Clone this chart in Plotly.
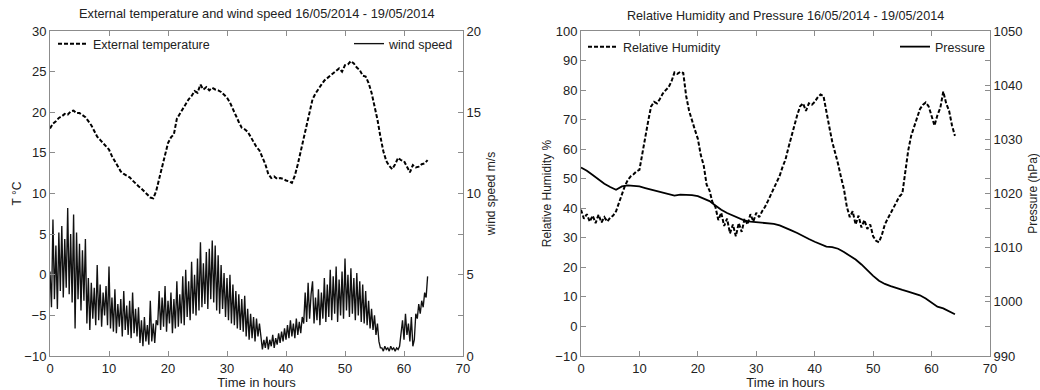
import plotly.graph_objects as go

# ---------------- data ----------------
# External temperature (deg C), sampled every 0.5 h from 0 h to 64 h
temperature = [
    18.0, 18.6, 18.9, 19.3, 19.5, 19.8, 19.7, 20.1, 20.2, 19.9,
    19.9, 19.7, 19.4, 18.9, 18.4, 17.7, 17.0, 16.6, 16.2, 15.9,
    15.4, 14.6, 13.9, 13.3, 12.7, 12.4, 12.2, 12.0, 11.6, 11.2,
    10.9, 10.6, 10.2, 9.8, 9.5, 9.4, 10.3, 11.8, 13.4, 14.8,
    16.2, 16.9, 17.3, 19.2, 19.8, 20.4, 21.0, 21.6, 22.0, 22.6,
    22.4, 23.4, 22.8, 23.1, 22.7, 23.0, 22.8, 22.7, 22.5, 22.2,
    21.8, 21.2, 20.5, 19.6, 18.8, 18.1, 17.9, 17.6, 17.0, 16.3,
    15.7, 15.3, 14.5, 13.6, 12.4, 11.9, 12.1, 11.8, 11.9, 11.8,
    11.6, 11.5, 11.3, 12.2, 13.6, 15.2, 17.0, 18.7, 20.3, 21.6,
    22.3, 22.9, 23.4, 23.9, 24.2, 24.6, 24.9, 25.1, 25.4, 25.0,
    25.8, 25.9, 26.3, 26.0, 25.5, 25.2, 24.5, 24.4, 23.6, 22.4,
    20.8, 19.1, 17.0, 15.2, 14.0, 13.4, 13.0, 13.6, 14.4, 14.1,
    14.0, 13.2, 12.6, 13.5, 13.2, 13.3, 13.6, 13.7, 14.1,
]

# Wind speed (m/s), sampled every 0.25 h from 0 h to 64 h
wind_speed = [
    5.2, 3.0, 8.4, 3.5, 6.8, 2.9, 7.6, 4.0, 8.0, 3.6, 7.2, 4.2,
    9.1, 3.8, 7.5, 3.3, 8.7, 1.7, 7.6, 3.5, 6.9, 2.8, 6.5, 3.4,
    7.2, 2.0, 4.8, 1.6, 4.5, 2.3, 4.2, 1.9, 5.6, 2.2, 4.4, 1.8,
    3.9, 2.5, 4.3, 1.9, 5.5, 1.7, 3.6, 1.5, 4.1, 1.4, 3.2, 1.8,
    3.5, 1.2, 4.0, 1.6, 3.1, 1.3, 3.4, 1.1, 3.9, 1.4, 2.9, 1.2,
    3.0, 0.8, 2.2, 0.6, 2.4, 0.9, 1.9, 0.7, 3.4, 0.9, 2.0, 0.8,
    2.2, 1.9, 4.0, 1.6, 3.6, 1.8, 4.3, 1.5, 3.4, 2.0, 3.9, 1.4,
    3.5, 1.7, 4.6, 1.8, 3.8, 2.0, 4.9, 1.9, 5.3, 2.4, 4.6, 2.2,
    5.8, 2.6, 5.0, 2.5, 6.0, 2.8, 7.0, 3.0, 5.7, 3.2, 6.4, 2.9,
    6.6, 3.5, 7.1, 3.3, 6.8, 2.8, 6.2, 2.6, 5.6, 2.9, 5.1, 2.4,
    4.8, 2.2, 5.0, 2.0, 4.4, 1.9, 4.0, 1.7, 3.8, 1.6, 3.5, 1.5,
    3.7, 1.2, 2.9, 1.0, 2.6, 1.1, 2.4, 0.9, 2.3, 1.2, 2.0, 1.0,
    0.4, 1.0, 0.5, 1.2, 0.4, 1.0, 0.6, 1.3, 0.5, 1.1, 0.7, 1.4,
    0.8, 1.5, 0.9, 1.7, 1.0, 1.9, 1.1, 2.2, 1.2, 2.0, 1.1, 2.3,
    1.3, 2.1, 1.4, 2.4, 2.0, 3.9, 2.1, 4.5, 2.3, 3.8, 4.6, 2.0,
    3.6, 2.2, 4.1, 1.9, 3.9, 2.3, 4.8, 2.1, 4.4, 2.4, 5.3, 2.2,
    4.9, 2.6, 5.5, 2.1, 4.7, 2.5, 5.2, 2.3, 6.0, 2.8, 5.0, 2.4,
    5.4, 2.6, 4.8, 2.2, 5.1, 2.5, 4.6, 2.1, 4.4, 2.0, 4.0, 1.9,
    3.4, 1.7, 2.9, 1.6, 2.5, 1.3, 2.0, 0.9, 0.5, 0.5, 0.3, 0.6,
    0.4, 0.5, 0.3, 0.6, 0.4, 0.5, 0.3, 0.5, 0.4, 0.6, 1.4, 2.2,
    1.0, 2.6, 1.3, 2.0, 0.9, 2.4, 0.6, 1.0, 2.6, 2.3, 3.2, 2.6,
    3.4, 3.0, 3.9, 3.6, 4.9,
]

# Relative humidity (%), sampled every 0.5 h from 0 h to 64 h
humidity = [
    39.5, 36.5, 38.0, 35.5, 37.5, 35.0, 37.8, 35.2, 37.0, 35.5,
    36.8, 37.5, 39.0, 42.0, 45.0, 47.5, 49.5, 50.8, 51.5, 52.5,
    53.0, 58.0, 64.0, 69.5, 74.5, 76.0, 75.5, 77.0, 78.8, 80.0,
    81.0, 83.0, 86.0, 85.5, 86.2, 85.8, 78.0, 73.0, 69.5, 66.5,
    63.5, 58.0, 54.5, 48.0, 46.0, 42.0, 40.5, 36.0, 38.5, 34.0,
    36.5, 31.5, 34.5, 30.5, 35.0, 32.0, 36.5, 34.5, 38.0, 35.5,
    38.5, 37.0, 39.0, 40.5, 42.5, 44.5, 46.5, 48.5, 51.0, 54.0,
    56.5, 60.5, 64.5, 68.0, 71.5, 74.5, 75.5, 73.0, 75.5, 75.0,
    76.0, 77.5, 78.5, 78.0, 72.0, 67.5, 62.5, 59.0, 55.0, 50.5,
    46.5, 40.5, 37.0, 39.0, 34.5, 37.5, 33.5, 36.0, 33.0, 34.5,
    30.5, 29.0, 28.5, 31.0, 34.5, 36.5, 38.5, 40.5, 42.5, 44.0,
    45.0, 52.0, 59.5, 64.5, 67.5, 71.0, 73.5, 75.0, 75.8, 74.5,
    71.5, 68.0, 71.5, 74.0, 79.5, 75.5, 73.0, 68.0, 64.5,
]

# Pressure (hPa), sampled every 1 h from 0 h to 64 h
pressure = [
    1024.8, 1024.2, 1023.4, 1022.6, 1021.8, 1021.2, 1020.7, 1021.3,
    1021.5, 1021.4, 1021.3, 1021.0, 1020.7, 1020.4, 1020.1, 1019.8,
    1019.6, 1019.8, 1019.8, 1019.7, 1019.5, 1019.1, 1018.6, 1017.8,
    1017.0, 1016.4, 1015.9, 1015.4, 1015.0, 1014.8, 1014.7, 1014.7,
    1014.6, 1014.4, 1014.1, 1013.7, 1013.2, 1012.7, 1012.1, 1011.6,
    1011.1, 1010.6, 1010.2, 1010.1, 1009.8, 1009.2, 1008.5, 1007.8,
    1006.9, 1005.8, 1004.8, 1003.9, 1003.3, 1002.9, 1002.5, 1002.2,
    1001.9, 1001.6, 1001.2, 1000.6, 999.9, 999.1, 998.8, 998.2,
    997.7,
]

t_temperature = [i * 0.5 for i in range(len(temperature))]
t_wind = [i * 0.25 for i in range(len(wind_speed))]
t_humidity = [i * 0.5 for i in range(len(humidity))]
t_pressure = [i * 1.0 for i in range(len(pressure))]

title_left = "External temperature and wind speed 16/05/2014 - 19/05/2014"
title_right = "Relative Humidity and Pressure 16/05/2014 - 19/05/2014"

# ---------------- figure ----------------
FONT = "Liberation Sans, Arial, Helvetica, sans-serif"
AX = "#8c8c8c"
TXT = "#222222"

fig = go.Figure()

fig.add_trace(go.Scatter(
    x=t_temperature, y=temperature, name="External temperature",
    mode="lines", line=dict(color="black", width=2, dash="4px,2px"),
    xaxis="x", yaxis="y", legend="legend", showlegend=True))
fig.add_trace(go.Scatter(
    x=t_wind, y=wind_speed, name="wind speed",
    mode="lines", line=dict(color="#111111", width=1.35),
    xaxis="x", yaxis="y2", legend="legend2", showlegend=True))
fig.add_trace(go.Scatter(
    x=t_humidity, y=humidity, name="Relative Humidity",
    mode="lines", line=dict(color="black", width=2, dash="4px,2px"),
    xaxis="x2", yaxis="y3", legend="legend3", showlegend=True))
fig.add_trace(go.Scatter(
    x=t_pressure, y=pressure, name="Pressure",
    mode="lines", line=dict(color="black", width=1.8),
    xaxis="x2", yaxis="y4", legend="legend4", showlegend=True))

L, R, T, B = 50, 50, 31, 34
W, H = 1040, 390
PW = W - L - R
PH = H - T - B


def px_x(p):
    return (p - L) / PW


def px_y(p):
    return (H - B - p) / PH


common_axis = dict(
    showline=True, linecolor=AX, linewidth=1,
    ticks="inside", ticklen=5, tickcolor=AX, tickwidth=1,
    showgrid=False, zeroline=False,
    tickfont=dict(family=FONT, size=13, color=TXT),
    automargin=False,
)

xdom_left = [0, px_x(463)]
xdom_right = [px_x(581), 1]

LEG_FONT = dict(family=FONT, size=12.5, color=TXT)

fig.update_layout(
    width=W, height=H,
    margin=dict(l=L, r=R, t=T, b=B),
    paper_bgcolor="white", plot_bgcolor="white",
    template="none",
    showlegend=True,
    font=dict(family=FONT, size=12, color=TXT),
    xaxis=dict(**common_axis, domain=xdom_left, range=[0, 70], dtick=10,
               mirror="ticks", anchor="y",
               title=dict(text="Time in hours", standoff=4,
                          font=dict(family=FONT, size=13, color=TXT))),
    yaxis=dict(**common_axis, range=[-10, 30], dtick=5, mirror="ticks",
               anchor="x",
               title=dict(text="T °C", standoff=0,
                          font=dict(family=FONT, size=12, color=TXT))),
    yaxis2=dict(**common_axis, range=[0, 20], dtick=5, overlaying="y",
                side="right", anchor="x",
                title=dict(text="wind speed m/s", standoff=6,
                           font=dict(family=FONT, size=12, color=TXT))),
    xaxis2=dict(**common_axis, domain=xdom_right, range=[0, 70], dtick=10,
                mirror="ticks", anchor="y3",
                title=dict(text="Time in hours", standoff=4,
                           font=dict(family=FONT, size=13, color=TXT))),
    yaxis3=dict(**common_axis, range=[-10, 100], dtick=10, mirror="ticks",
                anchor="x2",
                title=dict(text="Relative Humidity %", standoff=1,
                           font=dict(family=FONT, size=12, color=TXT))),
    yaxis4=dict(**common_axis, range=[990, 1050], dtick=10, overlaying="y3",
                side="right", anchor="x2",
                title=dict(text="Pressure (hPa)", standoff=11,
                           font=dict(family=FONT, size=12, color=TXT))),
    legend=dict(x=px_x(53), y=px_y(44), xanchor="left", yanchor="middle",
                bgcolor="rgba(0,0,0,0)", font=LEG_FONT),
    legend2=dict(x=px_x(459), y=px_y(44), xanchor="right", yanchor="middle",
                 bgcolor="rgba(0,0,0,0)", font=LEG_FONT),
    legend3=dict(x=px_x(583), y=px_y(47), xanchor="left", yanchor="middle",
                 bgcolor="rgba(0,0,0,0)", font=LEG_FONT),
    legend4=dict(x=px_x(991), y=px_y(47), xanchor="right", yanchor="middle",
                 bgcolor="rgba(0,0,0,0)", font=LEG_FONT),
    annotations=[
        dict(text=title_left, xref="paper", yref="paper",
             x=(xdom_left[0] + xdom_left[1]) / 2, y=px_y(14),
             xanchor="center", yanchor="middle", showarrow=False,
             font=dict(family=FONT, size=12.8, color=TXT)),
        dict(text=title_right, xref="paper", yref="paper",
             x=(xdom_right[0] + xdom_right[1]) / 2, y=px_y(16),
             xanchor="center", yanchor="middle", showarrow=False,
             font=dict(family=FONT, size=12.6, color=TXT)),
    ],
)

fig.write_html("out.html")
